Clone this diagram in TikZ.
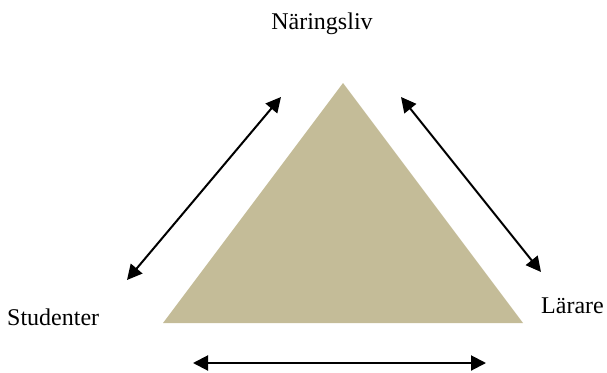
\documentclass[tikz,border=0pt]{standalone}
\usepackage{fontspec}
\setmainfont{Liberation Serif}
\usetikzlibrary{arrows.meta}
\definecolor{tri}{HTML}{C4BC98}
\begin{document}
\begin{tikzpicture}[x=1pt,y=-1pt,
  lbl/.style={font=\fontsize{24}{29}\selectfont, inner sep=0pt, anchor=base},
  dbl/.style={line width=2pt, {Triangle[length=15pt,width=15pt]}-{Triangle[length=15pt,width=15pt]}}]
\useasboundingbox (0,0) rectangle (607,372);
\fill[tri] (343,83) -- (523,323) -- (163,323) -- cycle;
\node[lbl] (n) at (322,29) {Näringsliv};
\node[lbl, anchor=base west] (s) at (7,325) {Studenter};
\node[lbl, anchor=base east] (l) at (604,313) {Lärare};
\coordinate (a1) at (127,280); \coordinate (a2) at (281,97);
\coordinate (b1) at (401,97); \coordinate (b2) at (541,272);
\coordinate (c1) at (193,363); \coordinate (c2) at (486,363);
\draw[dbl] (a1) -- (a2);
\draw[dbl] (b1) -- (b2);
\draw[dbl] (c1) -- (c2);
\end{tikzpicture}
\end{document}
